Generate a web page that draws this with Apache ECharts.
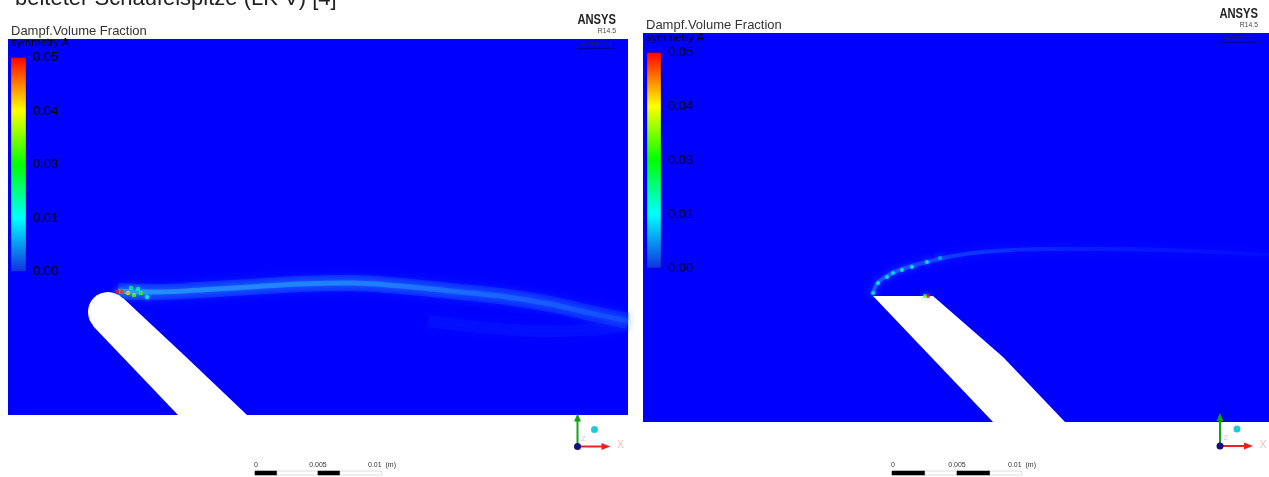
<!DOCTYPE html>
<html>
<head>
<meta charset="utf-8">
<title>Dampf.Volume Fraction</title>
<script src="https://cdn.jsdelivr.net/npm/echarts@6/dist/echarts.min.js"></script>
<style>
html, body { margin: 0; padding: 0; background: #fff; }
#main { width: 1269px; height: 477px; }
</style>
</head>
<body>
<div id="main"></div>
<script>
// legend ticks (ANSYS rounds the 0.0125 steps)
var legendTicks = ['0.00', '0.01', '0.03', '0.04', '0.05'];
var legendColors = ['#0000ff', '#00ffff', '#00ff00', '#ffff00', '#ff0000'];

// left case: rounded blade tip (panel units)
var bladeA = [[8.5, 8.9], [17.0, 0], [23.9, 0], [17.7, 5.9], [11.5, 11.7]];
var tipA = [10.0, 10.3, 2.0];
var streakA = [[11.0, 12.4], [13.2, 12.3], [15.2, 12.3], [19.2, 12.5], [24.2, 12.8], [29.2, 13.1],
  [34.2, 13.2], [39.2, 12.9], [44.2, 12.4], [49.2, 11.9], [54.2, 11.1], [58.2, 10.2], [62.0, 9.4]];
var loopA = [[42, 9.4], [47, 8.8], [53, 8.4], [58, 8.5], [62, 9.0]];
var spotsA = [[10.9, 12.3, 0.05], [11.4, 12.3, 0.048], [12.0, 12.2, 0.04], [12.6, 12.0, 0.03],
  [13.3, 12.2, 0.027], [13.0, 12.6, 0.018], [13.9, 11.8, 0.015], [12.3, 12.7, 0.02]];

// right case: sharp blade tip
var bladeB = [[23.0, 12.6], [35.0, 0], [42.2, 0], [36.0, 6.5], [29.0, 12.6]];
var streakB = [[23.0, 12.7], [23.4, 13.8], [24.4, 14.6], [25.9, 15.3], [28.4, 16.0], [31, 16.6],
  [34, 17.0], [40, 17.3], [47, 17.3], [55, 17.1], [62.6, 16.7]];
var dotsB = [[23.0, 12.9, 0.012], [23.5, 13.9, 0.013], [24.4, 14.5, 0.014], [25.0, 14.9, 0.012],
  [25.9, 15.2, 0.014], [26.9, 15.5, 0.013], [28.4, 16.0, 0.012], [29.7, 16.4, 0.009],
  [28.5, 12.6, 0.05], [28.2, 12.6, 0.03]];

var chart = echarts.init(document.getElementById('main'));
var FONT = '"Liberation Sans", Arial, sans-serif';

function bladeItem(outline, tip) {
  return function (params, api) {
    var pts = outline.map(function (p) { return api.coord(p); });
    var children = [{ type: 'polygon', shape: { points: pts }, style: { fill: '#fff' } }];
    if (tip) {
      var c = api.coord([tip[0], tip[1]]);
      children.push({ type: 'circle', shape: { cx: c[0], cy: c[1], r: api.size([tip[2], 0])[0] }, style: { fill: '#fff' } });
    }
    return { type: 'group', children: children };
  };
}

function colorBar(params, api) {
  var cs = params.coordSys;
  var stops = legendColors.slice().reverse().map(function (c, i) {
    return { offset: i / (legendColors.length - 1), color: c };
  });
  stops[stops.length - 1].color = '#1030e0';
  return {
    type: 'rect',
    shape: { x: cs.x, y: cs.y, width: cs.width, height: cs.height },
    style: { fill: new echarts.graphic.LinearGradient(0, 0, 0, 1, stops), stroke: 'rgba(0,0,80,0.25)', lineWidth: 1 }
  };
}

function grad(a, b, c) {
  return new echarts.graphic.LinearGradient(0, 0, 1, 0, [
    { offset: 0, color: a }, { offset: 0.5, color: b }, { offset: 1, color: c }
  ]);
}

function triad(ox, oy) {
  var s = function (t, x, y, fill, size) {
    return { type: 'text', x: x, y: y, zlevel: 1, style: { text: t, fill: fill, font: size + 'px ' + FONT, textAlign: 'center', textVerticalAlign: 'middle' } };
  };
  return [
    { type: 'line', zlevel: 1, shape: { x1: ox, y1: oy, x2: ox, y2: oy - 26 }, style: { stroke: '#14a014', lineWidth: 2 } },
    { type: 'polygon', zlevel: 1, shape: { points: [[ox - 3.5, oy - 25], [ox + 3.5, oy - 25], [ox, oy - 33]] }, style: { fill: '#14a014' } },
    { type: 'line', zlevel: 1, shape: { x1: ox, y1: oy, x2: ox + 25, y2: oy }, style: { stroke: '#e82020', lineWidth: 2 } },
    { type: 'polygon', zlevel: 1, shape: { points: [[ox + 24, oy - 3.5], [ox + 24, oy + 3.5], [ox + 33, oy]] }, style: { fill: '#e82020' } },
    { type: 'circle', zlevel: 1, z: 2, shape: { cx: ox, cy: oy, r: 3.5 }, style: { fill: '#101080' } },
    { type: 'circle', zlevel: 1, shape: { cx: ox + 17, cy: oy - 17, r: 3.5 }, style: { fill: '#20c8d8' } },
    s('X', ox + 43, oy - 1, '#ffb8b8', 10),
    s('Z', ox + 6, oy - 8, '#c8c8f0', 8),
    s('Y', ox + 3, oy - 40, 'rgba(0,0,120,0.5)', 8)
  ];
}

function logo(rx, y) {
  return [
    { type: 'text', x: rx, y: y, scaleX: 0.8, zlevel: 1, style: { text: 'ANSYS', font: 'bold 14px ' + FONT, fill: '#222', textAlign: 'right', textVerticalAlign: 'middle' } },
    { type: 'text', x: rx, y: y + 11, scaleX: 0.85, zlevel: 1, style: { text: 'R14.5', font: '8px ' + FONT, fill: '#444', textAlign: 'right', textVerticalAlign: 'middle' } },
    { type: 'text', x: rx - 4, y: y + 24, zlevel: 1, style: { text: 'Academic', font: '7px ' + FONT, fill: '#202060', textAlign: 'right', textVerticalAlign: 'middle' } },
    { type: 'line', zlevel: 1, shape: { x1: rx - 38, y1: y + 28.5, x2: rx - 1, y2: y + 28.5 }, style: { stroke: 'rgba(0,0,60,0.5)', lineWidth: 1 } }
  ];
}

function scaleBar(segs, labels) {
  var out = segs.map(function (g, i) {
    return { type: 'rect', zlevel: 1, shape: { x: g[0], y: 471, width: g[1], height: 4 },
      style: { fill: i % 2 ? '#fff' : '#000', stroke: i % 2 ? '#c8c8c8' : '#000', lineWidth: 0.6 } };
  });
  labels.forEach(function (l) {
    out.push({ type: 'text', x: l[1], y: 465, zlevel: 1, style: { text: l[0], font: '7px ' + FONT, fill: '#333', textAlign: l[2], textVerticalAlign: 'middle' } });
  });
  return out;
}

function txt(t, x, y, size, fill) {
  return { type: 'text', x: x, y: y, zlevel: 1, style: { text: t, font: size + 'px ' + FONT, fill: fill, textVerticalAlign: 'middle' } };
}

var graphics = [
  { type: 'text', x: 15, y: -0.7, zlevel: 1, style: { text: 'beiteter Schaufelspitze (LK V) [4]', font: '22px ' + FONT, fill: '#222', textVerticalAlign: 'middle' } },
  txt('Dampf.Volume Fraction', 11, 31.5, 13, '#333'),
  txt('symmetry A', 11, 42.8, 11, '#000'),
  txt('Dampf.Volume Fraction', 646, 25.5, 13, '#333'),
  txt('symmetry A', 646, 37.8, 11, '#000')
].concat(logo(616, 20), logo(1258, 14), triad(577.5, 446.5), triad(1220, 446),
  scaleBar([[255, 22], [277, 41], [318, 22], [340, 42]], [['0', 256, 'center'], ['0.005', 318, 'center'], ['0.01  (m)', 368, 'left']]),
  scaleBar([[892, 33], [925, 32], [957, 33], [990, 32]], [['0', 893, 'center'], ['0.005', 957, 'center'], ['0.01  (m)', 1008, 'left']]));

var hidden = { show: false };
function barAxis(gi) {
  return {
    type: 'category', gridIndex: gi, data: legendTicks, boundaryGap: false, position: 'right', zlevel: 1,
    axisLine: hidden, axisTick: hidden, splitLine: hidden,
    axisLabel: { margin: 7, color: '#000', fontSize: 13, fontFamily: FONT }
  };
}

chart.setOption({
  animation: false,
  grid: [
    { left: 8, top: 39, width: 620, height: 376, show: true, backgroundColor: '#0000ff', borderWidth: 0 },
    { left: 643, top: 33, width: 626, height: 389, show: true, backgroundColor: '#0000ff', borderWidth: 0 },
    { left: 11, top: 57.5, width: 15, height: 214 },
    { left: 647, top: 52.5, width: 14, height: 215.5 }
  ],
  xAxis: [
    { type: 'value', gridIndex: 0, min: 0, max: 62, show: false },
    { type: 'value', gridIndex: 1, min: 0, max: 62.6, show: false },
    { type: 'value', gridIndex: 2, min: 0, max: 1, show: false },
    { type: 'value', gridIndex: 3, min: 0, max: 1, show: false }
  ],
  yAxis: [
    { type: 'value', gridIndex: 0, min: 0, max: 37.6, show: false },
    { type: 'value', gridIndex: 1, min: 0, max: 38.9, show: false },
    barAxis(2), barAxis(3)
  ],
  visualMap: {
    type: 'continuous', show: false, min: 0, max: 0.05, dimension: 2, seriesIndex: [4, 7],
    inRange: { color: legendColors }
  },
  series: [
    { type: 'custom', xAxisIndex: 0, yAxisIndex: 0, z: 5, silent: true, data: [[0, 0]], renderItem: bladeItem(bladeA, tipA) },
    { type: 'line', xAxisIndex: 0, yAxisIndex: 0, z: 2, silent: true, smooth: 0.4, symbol: 'none', data: streakA,
      lineStyle: { width: 16, color: grad('rgba(30,130,255,0.3)', 'rgba(30,120,255,0.3)', 'rgba(20,80,255,0.3)'), shadowBlur: 10, shadowColor: 'rgba(30,110,255,0.8)' } },
    { type: 'line', xAxisIndex: 0, yAxisIndex: 0, z: 3, silent: true, smooth: 0.4, symbol: 'none', data: streakA,
      lineStyle: { width: 5, color: grad('rgba(40,165,255,0.75)', 'rgba(35,145,255,0.7)', 'rgba(25,90,255,0.45)'), shadowBlur: 6, shadowColor: 'rgba(40,150,255,0.8)' } },
    { type: 'line', xAxisIndex: 0, yAxisIndex: 0, z: 2, silent: true, smooth: 0.4, symbol: 'none', data: loopA,
      lineStyle: { width: 12, color: 'rgba(20,60,255,0.18)', shadowBlur: 14, shadowColor: 'rgba(20,70,255,0.6)' } },
    { type: 'scatter', xAxisIndex: 0, yAxisIndex: 0, z: 6, silent: true, symbolSize: 4.5, data: spotsA,
      itemStyle: { shadowBlur: 5, shadowColor: 'rgba(60,200,220,0.8)' } },
    { type: 'custom', xAxisIndex: 1, yAxisIndex: 1, z: 5, silent: true, data: [[0, 0]], renderItem: bladeItem(bladeB, null) },
    { type: 'line', xAxisIndex: 1, yAxisIndex: 1, z: 2, silent: true, smooth: 0.4, symbol: 'none', data: streakB,
      lineStyle: { width: 4, color: grad('rgba(40,140,255,0.55)', 'rgba(25,80,255,0.3)', 'rgba(20,50,255,0.15)'), shadowBlur: 8, shadowColor: 'rgba(30,100,255,0.7)' } },
    { type: 'scatter', xAxisIndex: 1, yAxisIndex: 1, z: 6, silent: true, symbolSize: 4, data: dotsB,
      itemStyle: { opacity: 0.8, shadowBlur: 5, shadowColor: 'rgba(60,170,255,0.9)' } },
    { type: 'custom', xAxisIndex: 2, yAxisIndex: 2, silent: true, data: [[0, 0]], renderItem: colorBar },
    { type: 'custom', xAxisIndex: 3, yAxisIndex: 3, silent: true, data: [[0, 0]], renderItem: colorBar }
  ],
  graphic: graphics
});
</script>
</body>
</html>
